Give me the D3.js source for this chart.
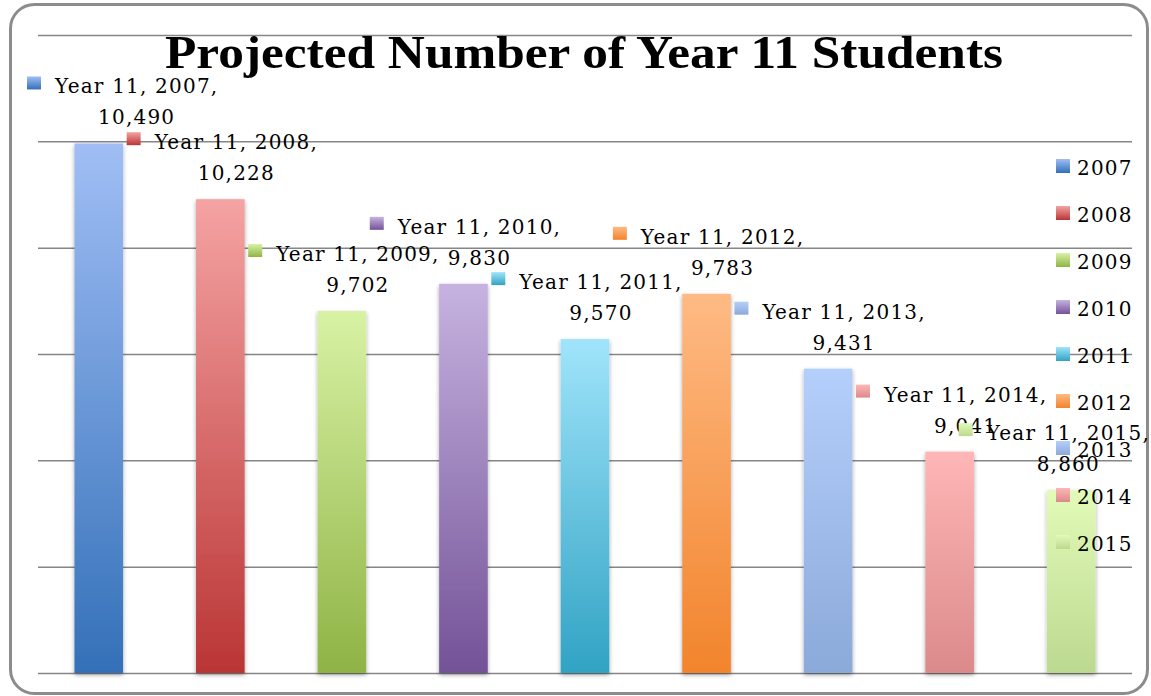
<!DOCTYPE html>
<html>
<head>
<meta charset="utf-8">
<script src="https://cdn.jsdelivr.net/npm/d3@7"></script>
<style>
  body { margin: 0; background: #fff; }
  #d3chart { width: 1151px; height: 696px; }
  .grid line { stroke: #868686; stroke-width: 1.5; }
  .lbl { font-family: "DejaVu Serif", serif; font-size: 20px; letter-spacing: 1.2px; fill: #000; }
</style>
</head>
<body>
<div id="d3chart"></div>
<script>
var years = ["2007", "2008", "2009", "2010", "2011", "2012", "2013", "2014", "2015"];
var values = [10490, 10228, 9702, 9830, 9570, 9783, 9431, 9041, 8860];
var seriesName = "Year 11";
var yTicks = [8000, 8500, 9000, 9500, 10000, 10500, 11000];
var topColors = ["#a0bef5", "#f5a3a3", "#d8f2a4", "#c6b3e0", "#a0e4fb", "#feba84", "#b5cffb", "#ffb6b6", "#e2fbb8"];
var bottomColors = ["#3370b8", "#ba3535", "#8fb345", "#735297", "#31a3c3", "#f2842c", "#8ba9d9", "#db8a8a", "#bcd990"];

var width = 1151, height = 696;
var plot = { left: 38, right: 1132, top: 35, bottom: 673 };

var svg = d3.select("#d3chart").append("svg")
    .attr("width", width)
    .attr("height", height);

var defs = svg.append("defs");
years.forEach(function(yr, i) {
    var g = defs.append("linearGradient").attr("id", "grad" + i)
        .attr("x1", 0).attr("y1", 0).attr("x2", 0).attr("y2", 1);
    g.append("stop").attr("offset", "0%").attr("stop-color", topColors[i]);
    g.append("stop").attr("offset", "100%").attr("stop-color", bottomColors[i]);
});
var shadow = defs.append("filter").attr("id", "shadow")
    .attr("x", "-20%").attr("y", "-5%").attr("width", "140%").attr("height", "110%");
shadow.append("feDropShadow").attr("dx", 0).attr("dy", 2).attr("stdDeviation", 2)
    .attr("flood-color", "#000").attr("flood-opacity", 0.35);

// chart border
svg.append("rect")
    .attr("x", 10.5).attr("y", 4.5)
    .attr("width", 1137).attr("height", 689)
    .attr("rx", 24).attr("ry", 24)
    .attr("fill", "#fff").attr("stroke", "#8c8c8c").attr("stroke-width", 3);

var x = d3.scaleBand().domain(years)
    .range([plot.left, plot.right])
    .paddingInner(0.6).paddingOuter(0.3);
var y = d3.scaleLinear().domain([8000, 11000]).range([plot.bottom, plot.top]);

// gridlines
var grid = svg.append("g").attr("class", "grid")
    .attr("transform", "translate(" + plot.left + ",0)")
    .call(d3.axisLeft(y).tickValues(yTicks).tickSize(-(plot.right - plot.left)).tickFormat(""));
grid.select(".domain").remove();

// title
svg.append("text")
    .attr("x", 584).attr("y", 68)
    .attr("text-anchor", "middle")
    .attr("font-family", "'Liberation Serif', serif")
    .attr("font-weight", "bold")
    .attr("font-size", 46)
    .attr("textLength", 838).attr("lengthAdjust", "spacingAndGlyphs")
    .text("Projected Number of Year 11 Students");

// bars
svg.selectAll("rect.bar").data(values).enter().append("rect")
    .attr("class", "bar")
    .attr("x", (d, i) => x(years[i]))
    .attr("y", d => y(d))
    .attr("width", x.bandwidth())
    .attr("height", d => plot.bottom - y(d))
    .attr("fill", (d, i) => "url(#grad" + i + ")")
    .attr("filter", "url(#shadow)");

// data labels (kept inside the chart area like the original)
var fmt = d3.format(",");
var label = svg.selectAll("g.label").data(values).enter().append("g").attr("class", "label");
label.each(function(d, i) {
    var g = d3.select(this);
    var base2 = y(d) - 19, base1 = base2 - 31;
    var t1 = g.append("text").attr("class", "lbl").attr("text-anchor", "middle")
        .attr("y", base1).text(seriesName + ", " + years[i] + ",");
    var w = t1.node().getComputedTextLength();
    var cx = x(years[i]) + x.bandwidth() / 2 + 16;
    if (cx - w / 2 < 55) cx = 55 + w / 2;
    if (cx + w / 2 > 1150) cx = 1150 - w / 2;
    t1.attr("x", cx);
    g.append("text").attr("class", "lbl").attr("text-anchor", "middle")
        .attr("x", cx).attr("y", base2).text(fmt(d));
    g.append("rect")
        .attr("x", cx - w / 2 - 28).attr("y", base1 - 17)
        .attr("width", 14).attr("height", 13)
        .attr("fill", "url(#grad" + i + ")");
});

// legend
var legend = svg.selectAll("g.legend").data(years).enter().append("g")
    .attr("class", "legend")
    .attr("transform", (d, i) => "translate(1056," + (159 + i * 47) + ")");
legend.append("rect")
    .attr("width", 14).attr("height", 14)
    .attr("fill", (d, i) => "url(#grad" + i + ")");
legend.append("text").attr("class", "lbl")
    .attr("x", 21).attr("y", 16)
    .text(d => d);
</script>
</body>
</html>
